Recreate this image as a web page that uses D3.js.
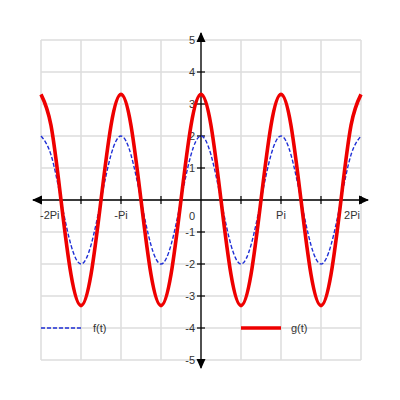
<!DOCTYPE html>
<html>
<head>
<meta charset="utf-8">
<script src="https://cdn.jsdelivr.net/npm/d3@7"></script>
<style>
  body { margin: 0; background: #fff; }
  text { font-family: "Liberation Sans", Arial, sans-serif; font-size: 11px; fill: #333; }
</style>
</head>
<body>
<div id="chart"></div>
<script>
// sample positions in multiples of Pi (step Pi/8)
var tSteps = d3.range(-16, 17).map(function(k) { return k / 8; });

// values at each sample
var fValues = [
   2.00,  1.41,  0.00, -1.41, -2.00, -1.41,  0.00,  1.41,
   2.00,  1.41,  0.00, -1.41, -2.00, -1.41,  0.00,  1.41,
   2.00,  1.41,  0.00, -1.41, -2.00, -1.41,  0.00,  1.41,
   2.00,  1.41,  0.00, -1.41, -2.00, -1.41,  0.00,  1.41,
   2.00
];
var gValues = [
   3.30,  2.33,  0.00, -2.33, -3.30, -2.33,  0.00,  2.33,
   3.30,  2.33,  0.00, -2.33, -3.30, -2.33,  0.00,  2.33,
   3.30,  2.33,  0.00, -2.33, -3.30, -2.33,  0.00,  2.33,
   3.30,  2.33,  0.00, -2.33, -3.30, -2.33,  0.00,  2.33,
   3.30
];

var xTickValues = [-2, -1.5, -1, -0.5, 0, 0.5, 1, 1.5, 2];
var xTickLabels = ["-2Pi", "", "-Pi", "", "", "", "Pi", "", "2Pi"];
var yTickValues = [-5, -4, -3, -2, -1, 0, 1, 2, 3, 4, 5];
var seriesNames = ["f(t)", "g(t)"];

var svgWidth = 400, svgHeight = 400;
var svg = d3.select("#chart").append("svg")
    .attr("width", svgWidth)
    .attr("height", svgHeight);

var xScale = d3.scaleLinear().domain([-2, 2]).range([41, 361]);
var yScale = d3.scaleLinear().domain([-5, 5]).range([360, 40]);

// grid
var grid = svg.append("g");
grid.selectAll(".vgrid").data(xTickValues).enter().append("line")
    .attr("x1", d => xScale(d)).attr("x2", d => xScale(d))
    .attr("y1", yScale(5)).attr("y2", yScale(-5))
    .attr("stroke", "#dcdcdc").attr("stroke-width", 1.5);
grid.selectAll(".hgrid").data(yTickValues).enter().append("line")
    .attr("x1", xScale(-2)).attr("x2", xScale(2))
    .attr("y1", d => yScale(d)).attr("y2", d => yScale(d))
    .attr("stroke", "#dcdcdc").attr("stroke-width", 1.5);

// axes
var bottomAxis = d3.axisBottom(xScale)
    .tickValues(xTickValues)
    .tickSize(0)
    .tickFormat("");
var leftAxis = d3.axisLeft(yScale)
    .tickValues(yTickValues)
    .tickSize(0)
    .tickFormat("");

var xAxisG = svg.append("g").attr("transform", `translate(0, ${yScale(0)})`).call(bottomAxis);
var yAxisG = svg.append("g").attr("transform", `translate(${xScale(0)}, 0)`).call(leftAxis);
xAxisG.select(".domain").remove();
yAxisG.select(".domain").remove();

// axis lines with arrows
svg.append("line")
    .attr("x1", 33).attr("x2", 368)
    .attr("y1", yScale(0)).attr("y2", yScale(0))
    .attr("stroke", "#000").attr("stroke-width", 1.3);
svg.append("line")
    .attr("x1", xScale(0)).attr("x2", xScale(0))
    .attr("y1", 33).attr("y2", 368)
    .attr("stroke", "#000").attr("stroke-width", 1.3);

var x0 = xScale(0), y0 = yScale(0);
svg.append("path").attr("d", `M32,${y0} L42,${y0 - 4.5} L42,${y0 + 4.5} Z`).attr("fill", "#000");
svg.append("path").attr("d", `M369,${y0} L359,${y0 - 4.5} L359,${y0 + 4.5} Z`).attr("fill", "#000");
svg.append("path").attr("d", `M${x0},32 L${x0 - 4.5},42 L${x0 + 4.5},42 Z`).attr("fill", "#000");
svg.append("path").attr("d", `M${x0},369 L${x0 - 4.5},359 L${x0 + 4.5},359 Z`).attr("fill", "#000");

// tick marks crossing the axes
svg.selectAll(".xtick").data(xTickValues.filter(d => d !== 0)).enter().append("line")
    .attr("x1", d => xScale(d)).attr("x2", d => xScale(d))
    .attr("y1", y0 - 4).attr("y2", y0 + 4)
    .attr("stroke", "#000").attr("stroke-width", 1.2);
svg.selectAll(".ytick").data(yTickValues.filter(d => d !== 0 && Math.abs(d) !== 5)).enter().append("line")
    .attr("x1", x0 - 4).attr("x2", x0 + 4)
    .attr("y1", d => yScale(d)).attr("y2", d => yScale(d))
    .attr("stroke", "#000").attr("stroke-width", 1.2);

// tick labels
svg.selectAll(".xlabel").data(xTickValues).enter().append("text")
    .attr("x", function(d, i) {
        if (i === 0) return xScale(d) - 1;
        if (i === xTickValues.length - 1) return xScale(d) - 1;
        return xScale(d);
    })
    .attr("y", y0 + 19)
    .attr("text-anchor", function(d, i) {
        if (i === 0) return "start";
        if (i === xTickValues.length - 1) return "end";
        return "middle";
    })
    .text((d, i) => xTickLabels[i]);

svg.selectAll(".ylabel").data(yTickValues).enter().append("text")
    .attr("x", x0 - 6)
    .attr("y", d => d === 0 ? yScale(0) + 20 : yScale(d) + 4)
    .attr("text-anchor", "end")
    .text(d => d);

// curves
var fData = tSteps.map((t, i) => ({ t: t, v: fValues[i] }));
var gData = tSteps.map((t, i) => ({ t: t, v: gValues[i] }));

var line = d3.line()
    .x(d => xScale(d.t))
    .y(d => yScale(d.v))
    .curve(d3.curveNatural);

svg.append("path")
    .datum(fData)
    .attr("d", line)
    .attr("fill", "none")
    .attr("stroke", "#1f2fd6")
    .attr("stroke-width", 1.4)
    .attr("stroke-dasharray", "4,2");

svg.append("path")
    .datum(gData)
    .attr("d", line)
    .attr("fill", "none")
    .attr("stroke", "#ee0000")
    .attr("stroke-width", 3.6)
    .attr("stroke-linejoin", "round");

// legend
var legendY = yScale(-4);
svg.append("line")
    .attr("x1", xScale(-2)).attr("x2", xScale(-1.5))
    .attr("y1", legendY).attr("y2", legendY)
    .attr("stroke", "#1f2fd6").attr("stroke-width", 1.4)
    .attr("stroke-dasharray", "4,2");
svg.append("text")
    .attr("x", xScale(-1.5) + 12).attr("y", legendY + 4)
    .text(seriesNames[0]);

svg.append("line")
    .attr("x1", xScale(0.5)).attr("x2", xScale(1))
    .attr("y1", legendY).attr("y2", legendY)
    .attr("stroke", "#ee0000").attr("stroke-width", 3.6);
svg.append("text")
    .attr("x", xScale(1) + 10).attr("y", legendY + 4)
    .text(seriesNames[1]);
</script>
</body>
</html>
